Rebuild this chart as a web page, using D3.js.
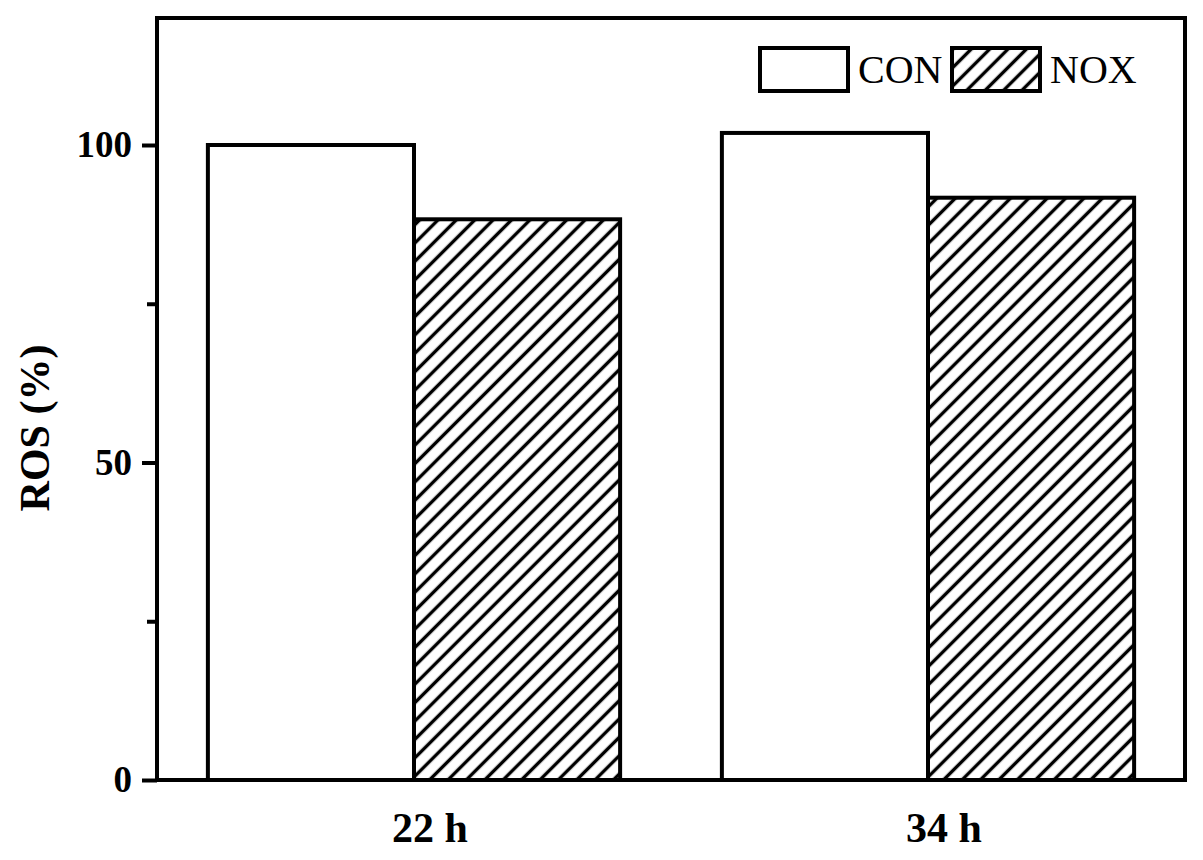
<!DOCTYPE html>
<html lang="en">
<head>
<meta charset="utf-8">
<title>ROS bar chart</title>
<style>
body { margin: 0; background: #fff; }
svg text { font-family: "Liberation Serif", "Times New Roman", serif; fill: #000; }
.tick-label { font-weight: bold; font-size: 37px; }
.cat-label { font-weight: bold; font-size: 42px; }
.axis-title { font-weight: bold; font-size: 42px; }
.legend-label { font-size: 40px; }
</style>
</head>
<body>
<div id="chartID"></div>
<script src="https://d3js.org/d3.v7.min.js"></script>
<script>
// data
var categories = ["22 h", "34 h"];
var seriesNames = ["CON", "NOX"];
var conValues = [100, 101.9];
var noxValues = [88.3, 91.7];
var yTicksMajor = [0, 50, 100];
var yTicksMinor = [25, 75];

var data = categories.map(function(c, i) {
    return { cat: c, values: [
        { key: "CON", value: conValues[i] },
        { key: "NOX", value: noxValues[i] }
    ]};
});

var svg = d3.select("#chartID")
    .append("svg").attr("width", 1203).attr("height", 860);

var margin = { top: 18, right: 18, bottom: 80, left: 157 };
var width = 1185 - margin.left;
var height = 780 - margin.top;

// hatch pattern for NOX
var defs = svg.append("defs");
defs.append("pattern")
    .attr("id", "hatch")
    .attr("patternUnits", "userSpaceOnUse")
    .attr("width", 13).attr("height", 13)
    .attr("patternTransform", "rotate(45)")
    .append("line")
    .attr("x1", 6.5).attr("y1", -2).attr("x2", 6.5).attr("y2", 15)
    .attr("stroke", "#000").attr("stroke-width", 3.4);

var g = svg.append("g").attr("transform", "translate(" + margin.left + "," + margin.top + ")");

var x0 = d3.scaleBand().domain(categories).range([0, width])
    .paddingInner(0.198).paddingOuter(0.099);
var x1 = d3.scaleBand().domain(seriesNames).range([0, x0.bandwidth()]).padding(0);
var y = d3.scaleLinear().domain([0, 120]).range([height, 0]);

var fills = { CON: "#fff", NOX: "url(#hatch)" };

// bars
var groups = g.selectAll(".grp")
    .data(data)
    .enter().append("g")
    .attr("class", "grp")
    .attr("transform", function(d) { return "translate(" + x0(d.cat) + ",0)"; });

groups.selectAll("rect")
    .data(function(d) { return d.values; })
    .enter().append("rect")
    .attr("x", function(d) { return x1(d.key); })
    .attr("y", function(d) { return y(d.value); })
    .attr("width", x1.bandwidth())
    .attr("height", function(d) { return height - y(d.value); })
    .attr("fill", function(d) { return fills[d.key]; })
    .attr("stroke", "#000")
    .attr("stroke-width", 4);

// frame
g.append("rect")
    .attr("x", 0).attr("y", 0)
    .attr("width", width).attr("height", height)
    .attr("fill", "none").attr("stroke", "#000").attr("stroke-width", 4);

// y axis (major ticks with labels, minor without)
var yAxis = g.append("g")
    .call(d3.axisLeft(y).tickValues(yTicksMajor).tickSize(15).tickPadding(10));
yAxis.select(".domain").remove();
yAxis.selectAll(".tick line").attr("stroke", "#000").attr("stroke-width", 4);
yAxis.selectAll(".tick text").attr("class", "tick-label").attr("font-family", null).attr("font-size", null);

var yMinor = g.append("g")
    .call(d3.axisLeft(y).tickValues(yTicksMinor).tickSize(10).tickFormat(""));
yMinor.select(".domain").remove();
yMinor.selectAll(".tick line").attr("stroke", "#000").attr("stroke-width", 4);

// x category labels
var xAxis = g.append("g")
    .attr("transform", "translate(0," + height + ")")
    .call(d3.axisBottom(x0).tickSize(0).tickPadding(32));
xAxis.select(".domain").remove();
xAxis.selectAll(".tick text").attr("class", "cat-label")
    .attr("font-family", null).attr("font-size", null).attr("dx", 16);

// y axis title
svg.append("text")
    .attr("class", "axis-title")
    .attr("transform", "translate(49,428) rotate(-90)")
    .attr("text-anchor", "middle")
    .text("ROS (%)");

// legend
var legend = svg.append("g");
var legendX = [760, 952];
seriesNames.forEach(function(name, i) {
    legend.append("rect")
        .attr("x", legendX[i]).attr("y", 48)
        .attr("width", 88).attr("height", 43)
        .attr("fill", fills[name]).attr("stroke", "#000").attr("stroke-width", 4);
    legend.append("text")
        .attr("class", "legend-label")
        .attr("x", legendX[i] + 98).attr("y", 83)
        .text(name);
});
</script>
</body>
</html>
